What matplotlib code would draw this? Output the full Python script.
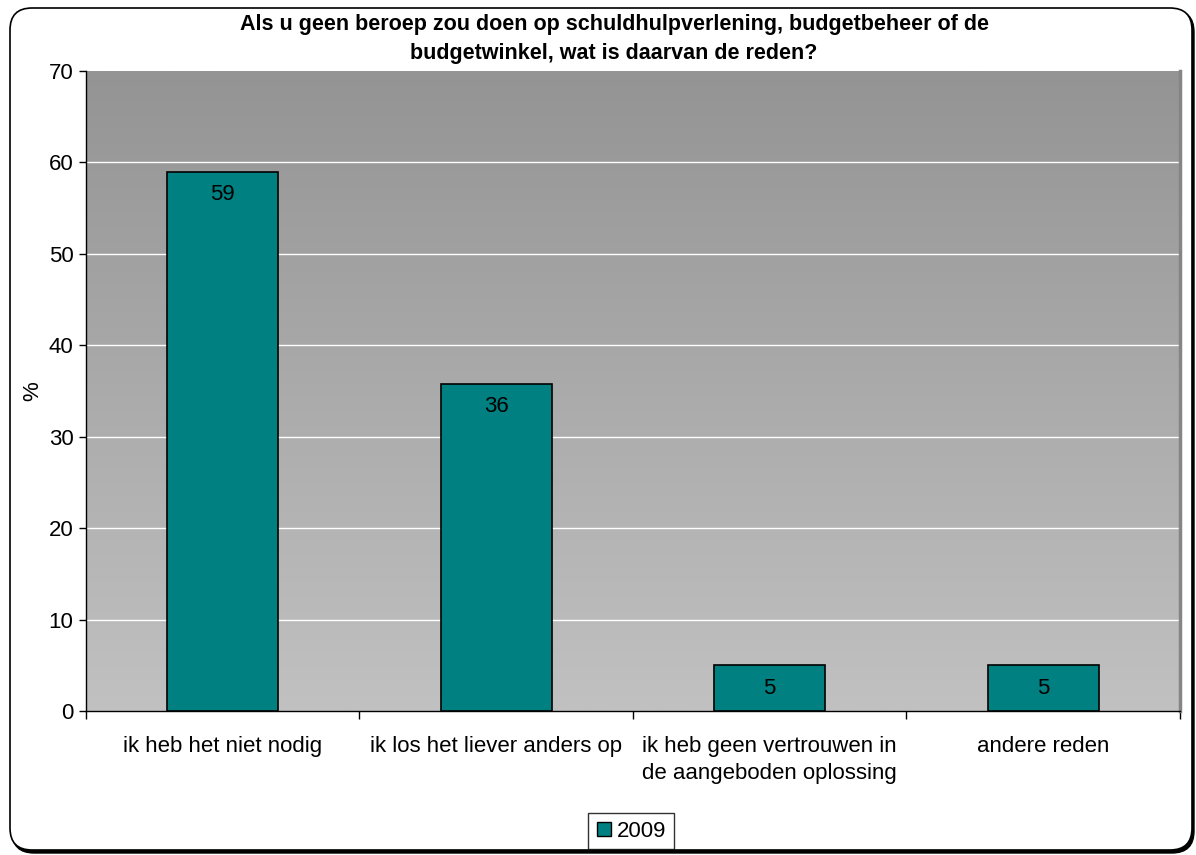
import matplotlib

matplotlib.use('Agg')
import matplotlib.pyplot as plt
import numpy as np
from matplotlib.patches import FancyBboxPatch
from matplotlib.lines import Line2D

categories = ['ik heb het niet nodig', 'ik los het liever anders op',
              'ik heb geen vertrouwen in\nde aangeboden oplossing', 'andere reden']
values_2009 = [59, 35.8, 5, 5]
series_name = '2009'
title = ('Als u geen beroep zou doen op schuldhulpverlening, budgetbeheer of de\n'
         'budgetwinkel, wat is daarvan de reden?')

plt.rcParams['font.family'] = ['Liberation Sans', 'DejaVu Sans']

W, H = 1196, 855
fig = plt.figure(figsize=(W / 100, H / 100), dpi=100)


def px(x0, y0):
    # pixel position (top-left origin) -> inches for dpi_scale_trans
    return x0 / 100, (H - y0) / 100


# outer rounded frame with shadow
sx, sy = px(12, 853)
shadow = FancyBboxPatch((sx, sy), 1182 / 100, 843 / 100,
                        boxstyle='round,pad=0,rounding_size=0.22',
                        transform=fig.dpi_scale_trans, facecolor='black',
                        edgecolor='black', zorder=0)
fx, fy = px(10, 850)
frame = FancyBboxPatch((fx, fy), 1182 / 100, 842 / 100,
                       boxstyle='round,pad=0,rounding_size=0.22',
                       transform=fig.dpi_scale_trans, facecolor='white',
                       edgecolor='black', linewidth=1.2, zorder=1)
fig.patches.extend([shadow, frame])

ax = fig.add_axes([86 / W, (H - 711) / H, 1094 / W, 640 / H])
ax.set_zorder(2)
ax.patch.set_alpha(0)

x = np.arange(len(categories))
ax.set_xlim(-0.5, len(categories) - 0.5)
ax.set_ylim(0, 70)

# gradient background
grad = np.linspace(0, 1, 256).reshape(-1, 1)
top_c = np.array([148, 148, 148]) / 255
bot_c = np.array([193, 193, 193]) / 255
img = top_c * (1 - grad[..., None]) + bot_c * grad[..., None]
ax.imshow(img, extent=[-0.5, len(categories) - 0.5, 0, 70], aspect='auto',
          origin='upper', zorder=0)

for v in range(10, 70, 10):
    ax.axhline(v, color='white', linewidth=1, zorder=1)

bars = ax.bar(x, values_2009, width=0.406, color='#008080', edgecolor='black',
              linewidth=1.2, zorder=3, label=series_name)
for b, v in zip(bars, values_2009):
    ax.text(b.get_x() + b.get_width() / 2, v - 1.4, f'{v:.0f}', ha='center', va='top',
            fontsize=16, color='black', zorder=4)

ax.set_yticks(range(0, 71, 10))
ax.tick_params(axis='y', direction='out', length=5, labelsize=16, pad=4, width=1)
ax.set_xticks(np.arange(-0.5, len(categories), 1))
ax.set_xticklabels([])
ax.tick_params(axis='x', which='major', direction='out', length=6, width=1)
ax.set_xticks(x, minor=True)
ax.set_xticklabels(categories, minor=True, fontsize=16, linespacing=1.35)
ax.tick_params(axis='x', which='minor', length=0, pad=18)

ax.spines['top'].set_visible(False)
ax.spines['right'].set_color('#858585')
ax.spines['right'].set_linewidth(2.5)
ax.spines['left'].set_linewidth(1)
ax.spines['bottom'].set_linewidth(1)
ax.set_ylabel('%', fontsize=16, labelpad=4)

fig.text(614 / W, 1 - 39 / H, title, ha='center', va='center', fontsize=15.5,
         fontweight='bold', linespacing=1.5)

handle = Line2D([], [], marker='s', linestyle='none', markerfacecolor='#008080',
                markeredgecolor='black', markersize=10)
fig.legend([handle], [series_name], loc='center', bbox_to_anchor=(631 / W, 1 - 831 / H),
           fontsize=16, frameon=True, fancybox=False, edgecolor='black',
           handlelength=0.7, handletextpad=0.25, borderpad=0.35, borderaxespad=0)

fig.savefig('out.png', dpi=100)
